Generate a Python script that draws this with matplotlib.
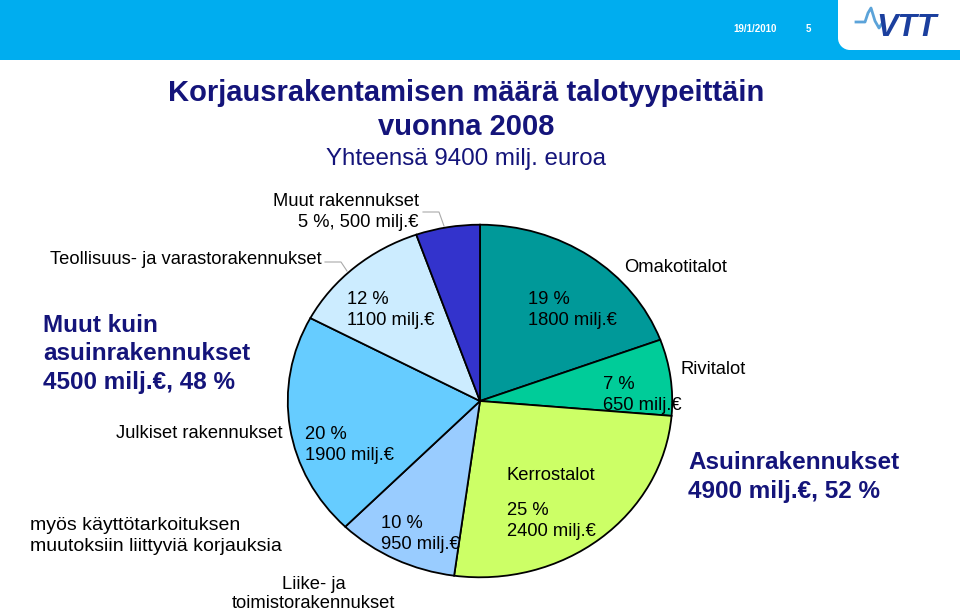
import matplotlib
matplotlib.use("Agg")
from matplotlib import pyplot as plt
from matplotlib.patches import Rectangle, Circle

plt.rcParams['font.family'] = ['Liberation Sans', 'DejaVu Sans']

# data: clockwise from the top
categories = ['Omakotitalot', 'Rivitalot', 'Kerrostalot', 'Liike- ja toimistorakennukset',
              'Julkiset rakennukset', 'Teollisuus- ja varastorakennukset', 'Muut rakennukset']
values = [1800, 650, 2400, 950, 1900, 1100, 500]
percents = [19, 7, 25, 10, 20, 12, 5]
colors = ['#009999', '#00CC99', '#CCFF66', '#99CCFF', '#66CCFF', '#CCECFF', '#3333CC']

W, H = 960, 614
fig = plt.figure(figsize=(9.6, 6.14), dpi=100)

# background layer in pixel coords
bg = fig.add_axes([0, 0, 1, 1])
bg.set_xlim(0, W)
bg.set_ylim(H, 0)
bg.axis('off')
bg.add_patch(Rectangle((0, 0), W, 60, color='#00ADEF', lw=0))
# white tab for the logo, rounded bottom-left corner
bg.add_patch(Rectangle((838, 0), 122, 38, color='white', lw=0))
bg.add_patch(Rectangle((850, 0), 110, 50, color='white', lw=0))
bg.add_patch(Circle((850, 38), 12, color='white', lw=0))
bg.plot([856, 865, 868, 871, 875, 879, 883], [22, 22, 13, 8, 21, 28, 22], color='#5BA3D9', lw=2)
bg.text(876, 28, 'VTT', fontsize=23, fontweight='bold', style='italic', color='#1B3F9E',
        va='center', ha='left')
bg.text(733, 29, '19/1/2010', fontsize=7, fontweight='bold', color='white', va='center')
bg.text(806, 29, '5', fontsize=7, fontweight='bold', color='white', va='center')

# leader lines
bg.plot([423, 439, 444], [212, 212, 226], color='#AAAAAA', lw=0.8)
bg.plot([325, 341, 347], [262, 262, 271], color='#AAAAAA', lw=0.8)

# pie (slightly elliptical like the original)
cx0, cx1, cy0, cy1 = 287, 673, 224, 578
pax = fig.add_axes([cx0 / W, 1 - cy1 / H, (cx1 - cx0) / W, (cy1 - cy0) / H])
pax.pie(values, colors=colors, startangle=90, counterclock=False,
        wedgeprops=dict(edgecolor='black', linewidth=1.3))
pax.set_aspect('auto')
pax.set_xlim(-1.004, 1.004)
pax.set_ylim(-1.004, 1.004)
pax.axis('off')

# text layer on top
top = fig.add_axes([0, 0, 1, 1])
top.set_xlim(0, W)
top.set_ylim(H, 0)
top.axis('off')


def t(x, y, s, **kw):
    top.text(x, y, s, **kw)


navy = '#14147A'
fs = 13.2
# titles
t(466, 93, 'Korjausrakentamisen määrä talotyypeittäin', fontsize=21, fontweight='bold',
  color=navy, ha='center', va='center')
t(466, 127, 'vuonna 2008', fontsize=21, fontweight='bold', color=navy, ha='center', va='center')
t(466, 159, 'Yhteensä 9400 milj. euroa', fontsize=17.4, color=navy, ha='center', va='center')


# inside labels
def lab(i):
    return f'{percents[i]} %\n{values[i]} milj.€'


inside = [(528, 310), (603, 395), (507, 521), (381, 534), (305, 445), (347, 310)]
for i, (x, y) in enumerate(inside):
    t(x, y, lab(i), fontsize=fs, ha='left', va='center', linespacing=1.25)
t(507, 475, categories[2], fontsize=fs, ha='left', va='center')

# outside labels
t(624, 268, categories[0], fontsize=fs, ha='left', va='center')
t(681, 370, categories[1], fontsize=fs, ha='left', va='center')
t(395, 594, 'Liike- ja\ntoimistorakennukset', fontsize=fs, ha='right', va='center',
  multialignment='center', linespacing=1.2)
t(282, 433, categories[4], fontsize=fs, ha='right', va='center')
t(322, 260, categories[5], fontsize=fs, ha='right', va='center')
t(419, 212, f'{categories[6]}\n{percents[6]} %, {values[6]} milj.€', fontsize=fs,
  ha='right', va='center', multialignment='right', linespacing=1.25)

# group summaries
t(43, 354, 'Muut kuin\nasuinrakennukset\n4500 milj.€, 48 %', fontsize=17.5, fontweight='bold',
  color=navy, ha='left', va='center', linespacing=1.33)
t(688, 477, 'Asuinrakennukset\n4900 milj.€, 52 %', fontsize=17.5, fontweight='bold',
  color=navy, ha='left', va='center', linespacing=1.33)
t(30, 536, 'myös käyttötarkoituksen\nmuutoksiin liittyviä korjauksia', fontsize=14,
  ha='left', va='center', linespacing=1.3)

fig.savefig('out.png', dpi=100)
